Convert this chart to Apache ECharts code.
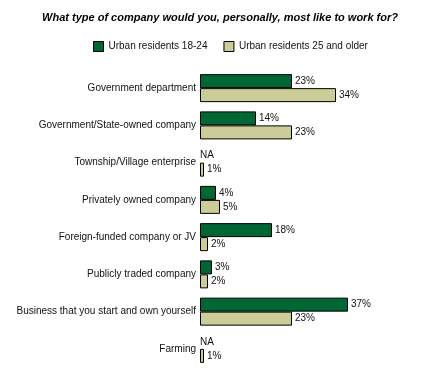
<!DOCTYPE html>
<html><head><meta charset="utf-8">
<script src="https://cdn.jsdelivr.net/npm/echarts@6/dist/echarts.min.js"></script>
<style>html,body{margin:0;padding:0;background:#fff}#c{width:440px;height:370px}</style>
</head><body><div id="c"></div>
<script>
const categories = ["Government department","Government/State-owned company","Township/Village enterprise","Privately owned company","Foreign-funded company or JV","Publicly traded company","Business that you start and own yourself","Farming"];
const young = [23, 14, null, 4, 18, 3, 37, null];
const older = [34, 23, 1, 5, 2, 2, 23, 1];
const seriesNames = ["Urban residents 18-24", "Urban residents 25 and older"];
const title = "What type of company would you, personally, most like to work for?";

const chart = echarts.init(document.getElementById('c'), null, {renderer:'canvas'});
const font = 'Liberation Sans, Arial, sans-serif';
function mk(name, vals, color){
  return {
    name, type:'bar', barWidth:14, barGap:'0%',
    data: vals.map(v => v === null ? {value:0, na:true, itemStyle:{borderWidth:0}, label:{distance:0}} : v),
    itemStyle:{color, borderColor:'#000', borderWidth:1},
    label:{show:true, position:'right', distance:3, fontFamily:font, fontSize:10, color:'#111',
      formatter: p => (p.data && p.data.na) ? 'NA' : p.value + '%'}
  };
}
chart.setOption({
  animation:false,
  title:{text:title, left:'center', top:7, textStyle:{fontFamily:font, fontSize:11, fontWeight:'bold', fontStyle:'italic', color:'#000'}},
  legend:{top:36, left:88, itemWidth:10, itemHeight:10, itemGap:16, icon:'rect',
    textStyle:{fontFamily:font, fontSize:10, color:'#111'},
    data:[{name:seriesNames[0], itemStyle:{borderColor:'#000', borderWidth:1}},{name:seriesNames[1], itemStyle:{borderColor:'#000', borderWidth:1}}]},
  grid:{left:200, top:69.5, width:200, bottom:2.5, containLabel:false},
  xAxis:{type:'value', min:0, max:50, show:false},
  yAxis:{type:'category', data:categories, inverse:true,
    axisLine:{show:false}, axisTick:{show:false},
    axisLabel:{fontFamily:font, fontSize:10, color:'#111', margin:4}},
  series:[mk(seriesNames[0], young, '#006633'), mk(seriesNames[1], older, '#CCCC99')]
});
</script></body></html>
